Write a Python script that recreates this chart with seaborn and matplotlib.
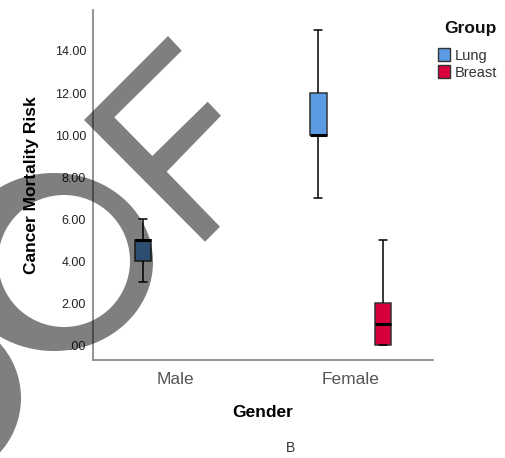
import numpy as np
import pandas as pd
import matplotlib
matplotlib.use("Agg")
import matplotlib.pyplot as plt
from matplotlib.patches import Polygon, Circle, PathPatch
from matplotlib.path import Path
from matplotlib.ticker import FuncFormatter, FixedLocator
from matplotlib.transforms import Affine2D
import seaborn as sns

# Cancer mortality risk by gender and cancer group
genders = ["Male", "Female"]
groups = ["Lung", "Breast"]
male_lung = [3, 4, 5, 5, 6]
female_lung = [7, 10, 10, 12, 15]
female_breast = [0, 0, 1, 2, 5]
y_ticks = [0, 2, 4, 6, 8, 10, 12, 14]
group_colors = {"Lung": "#5B9BE3", "Breast": "#D8003C"}

df = pd.DataFrame({
    "Gender": ["Male"] * len(male_lung) + ["Female"] * (len(female_lung) + len(female_breast)),
    "Group": ["Lung"] * (len(male_lung) + len(female_lung)) + ["Breast"] * len(female_breast),
    "Risk": male_lung + female_lung + female_breast,
})

sns.set_theme(style="white")
plt.rcParams["font.family"] = ["Liberation Sans", "DejaVu Sans"]

W, H, DPI = 505, 458, 100
fig = plt.figure(figsize=(W / DPI, H / DPI), dpi=DPI)
ax = fig.add_axes([93 / W, 1 - 360 / H, 340 / W, 350 / H])

sns.boxplot(
    data=df, x="Gender", y="Risk", hue="Group",
    order=genders, hue_order=groups, palette=group_colors,
    width=0.74, gap=0.74, saturation=1, linecolor="black", linewidth=1.1,
    fliersize=0, medianprops=dict(linewidth=2.2, color="black"),
    boxprops=dict(edgecolor="#333333"), ax=ax,
)

ax.set_xlim(-0.47, 1.47)
ax.set_ylim(-0.7, 15.95)
ax.yaxis.set_major_locator(FixedLocator(y_ticks))
ax.yaxis.set_major_formatter(FuncFormatter(lambda v, p: ".00" if v == 0 else f"{v:.2f}"))

for side in ("top", "right"):
    ax.spines[side].set_visible(False)
for side in ("left", "bottom"):
    ax.spines[side].set_color("#8a8a8a")
    ax.spines[side].set_linewidth(1.3)

ax.tick_params(axis="y", length=0, pad=5, labelsize=9, labelcolor="#222222")
ax.tick_params(axis="x", length=0, pad=9, labelsize=12.5, labelcolor="#555555")

ax.set_ylabel("Cancer Mortality Risk", fontsize=12.5, fontweight="bold", color="black", va="center")
ax.yaxis.set_label_coords(-0.182, 0.5)
ax.set_xlabel("Gender", fontsize=12.5, fontweight="bold", color="black", va="center")
ax.xaxis.set_label_coords(0.5, -0.151)

# Legend entries, with the "Group" heading placed above them
leg = ax.legend(
    loc="upper left", bbox_to_anchor=(438 / W, 1 - 48.5 / H),
    bbox_transform=fig.transFigure, frameon=False, fontsize=10.5,
    handlelength=0.8, handleheight=0.9, handletextpad=0.35,
    labelspacing=0.2, borderpad=0, borderaxespad=0,
)
for h in leg.legend_handles:
    h.set_edgecolor("#333333")
    h.set_linewidth(1.0)
for t in leg.get_texts():
    t.set_color("#333333")
fig.text(470 / W, 1 - 28 / H, "Group", ha="center", va="center",
         fontsize=12.5, fontweight="bold", color="#111111")

fig.text(290.5 / W, 1 - 448 / H, "B", ha="center", va="center", fontsize=10, color="#333333")

# Translucent "OF" stamp over the figure, in pixel coordinates (top-left origin)
px = Affine2D().scale(1 / DPI, -1 / DPI).translate(0, H / DPI) + fig.dpi_scale_trans
stamp = dict(facecolor="black", edgecolor="none", alpha=0.5, zorder=20, transform=px)
f_shape = [
    (84, 120), (168, 36), (181.7, 50.7), (114.3, 117.3), (152.3, 156),
    (207.7, 101.7), (221, 115.7), (166.7, 171.7), (220, 226.7), (205, 241.7),
]
fig.add_artist(Polygon(f_shape, closed=True, **stamp))

t = np.linspace(0, 2 * np.pi, 181)
outer = np.column_stack([54 + 99 * np.cos(t), 262 + 89 * np.sin(t)])
inner = np.column_stack([64 + 66 * np.cos(t[::-1]), 261 + 66 * np.sin(t[::-1])])
ring_verts = np.vstack([outer, inner])
ring_codes = ([Path.MOVETO] + [Path.LINETO] * (len(outer) - 2) + [Path.CLOSEPOLY]) * 2
fig.add_artist(PathPatch(Path(ring_verts, ring_codes), **stamp))
fig.add_artist(Circle((-60, 398), 81, **stamp))

fig.savefig("out.png", dpi=DPI)
